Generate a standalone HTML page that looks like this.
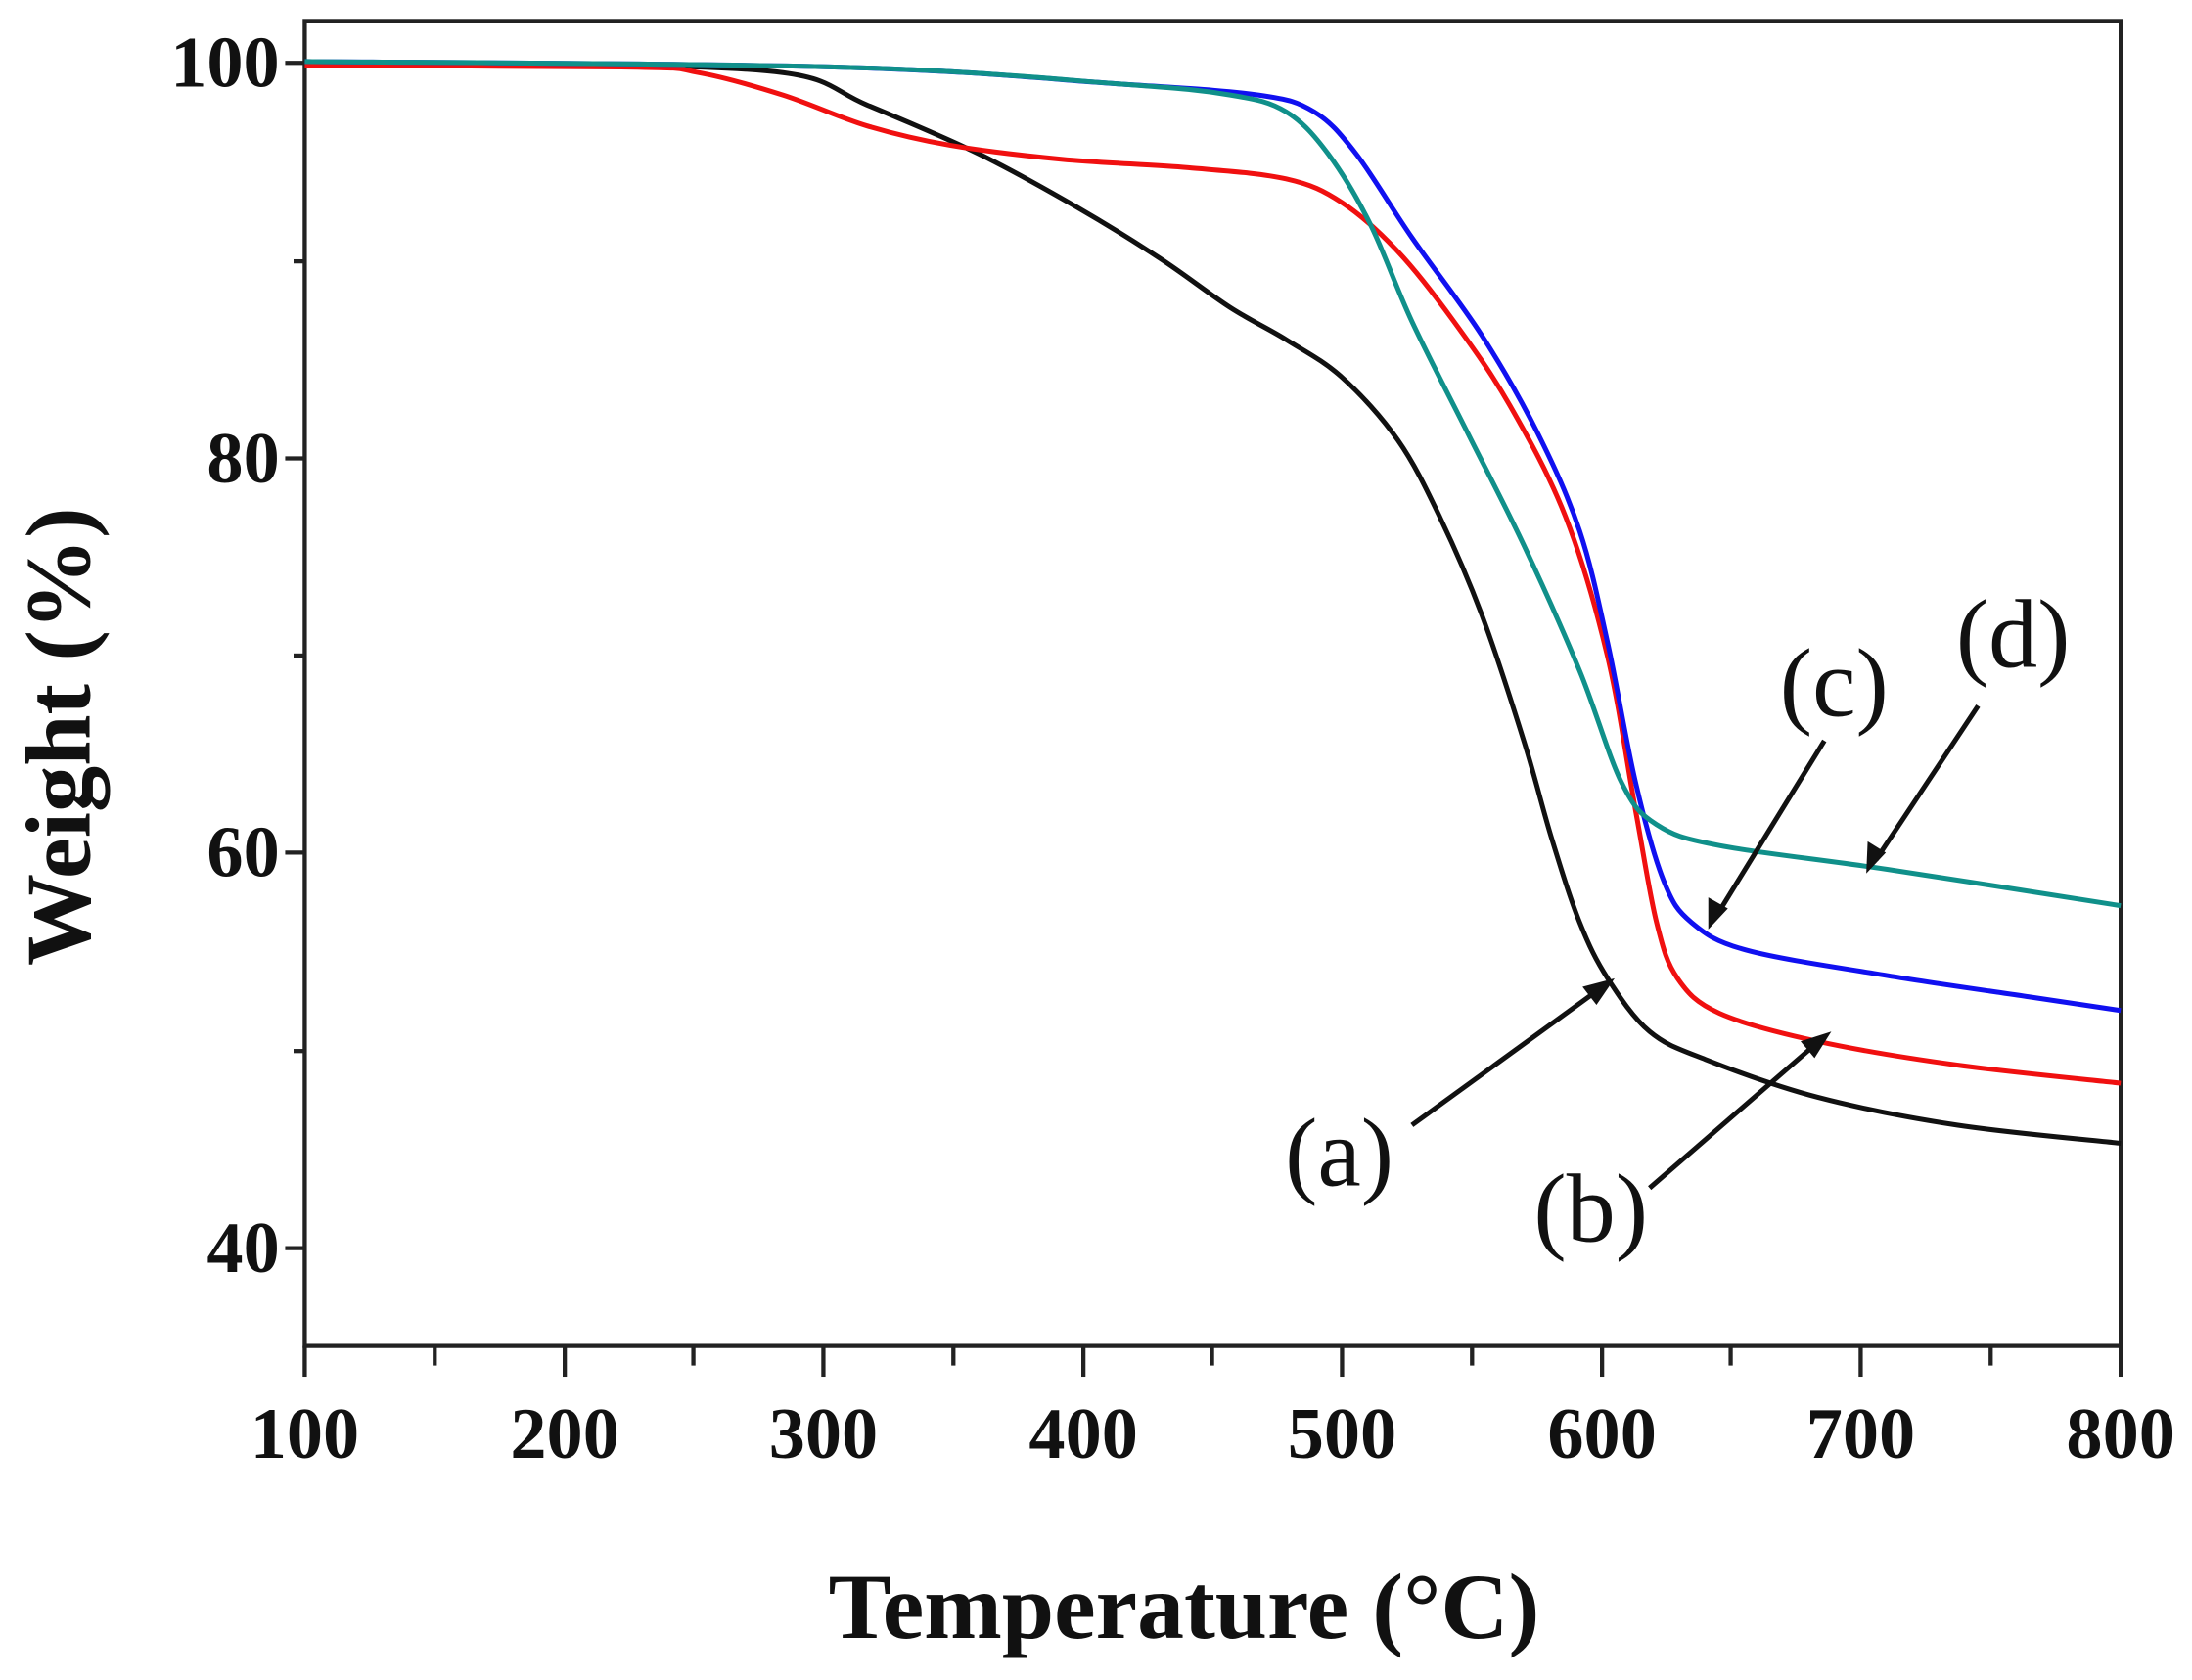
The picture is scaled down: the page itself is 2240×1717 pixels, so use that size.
<!DOCTYPE html>
<html><head><style>html,body{margin:0;padding:0;background:#fff}svg{display:block}</style></head><body>
<svg id="s" width="2240" height="1717" viewBox="0 0 1568 1202" preserveAspectRatio="none" xmlns="http://www.w3.org/2000/svg" font-family="Liberation Serif, serif">
<rect x="218" y="15" width="1299" height="948" fill="none" stroke="#222" stroke-width="3"/>
<g stroke="#222" stroke-width="3">
<line x1="218" y1="963" x2="218" y2="985"/><line x1="311" y1="963" x2="311" y2="977"/>
<line x1="404" y1="963" x2="404" y2="985"/><line x1="496" y1="963" x2="496" y2="977"/>
<line x1="589" y1="963" x2="589" y2="985"/><line x1="682" y1="963" x2="682" y2="977"/>
<line x1="775" y1="963" x2="775" y2="985"/><line x1="867" y1="963" x2="867" y2="977"/>
<line x1="960" y1="963" x2="960" y2="985"/><line x1="1053" y1="963" x2="1053" y2="977"/>
<line x1="1146" y1="963" x2="1146" y2="985"/><line x1="1238" y1="963" x2="1238" y2="977"/>
<line x1="1331" y1="963" x2="1331" y2="985"/><line x1="1424" y1="963" x2="1424" y2="977"/>
<line x1="1517" y1="963" x2="1517" y2="985"/>
<line x1="218" y1="45" x2="204" y2="45"/><line x1="218" y1="187" x2="210" y2="187"/>
<line x1="218" y1="328" x2="204" y2="328"/><line x1="218" y1="469" x2="210" y2="469"/>
<line x1="218" y1="610" x2="204" y2="610"/><line x1="218" y1="752" x2="210" y2="752"/>
<line x1="218" y1="893" x2="204" y2="893"/>
</g>
<g font-size="52" font-weight="bold" text-anchor="middle" fill="#111">
<text x="218" y="1043">100</text><text x="404" y="1043">200</text><text x="589" y="1043">300</text>
<text x="775" y="1043">400</text><text x="960" y="1043">500</text><text x="1146" y="1043">600</text>
<text x="1331" y="1043">700</text><text x="1517" y="1043">800</text>
</g>
<g font-size="52" font-weight="bold" text-anchor="end" fill="#111">
<text x="200" y="62">100</text><text x="200" y="345">80</text><text x="200" y="627">60</text><text x="200" y="910">40</text>
</g>
<text x="847" y="1172" font-size="67" font-weight="bold" text-anchor="middle" fill="#111">Temperature (°C)</text>
<text transform="translate(64,527) rotate(-90)" font-size="66" font-weight="bold" text-anchor="middle" fill="#111">Weight (%)</text>
<g fill="none" stroke-width="3.5" stroke-linejoin="round">
<path class="c" stroke="#111" data-p="218,45 400,46 560,52 620,75 700,110 770,148 830,185 880,220 920,243 960,270 1000,315 1030,370 1060,440 1090,530 1110,600 1130,660 1150,700 1180,738 1220,758 1300,785 1400,805 1517,818"/>
<path class="c" stroke="#f01010" data-p="218,47 450,48 500,52 560,68 620,90 680,104 760,114 850,120 920,128 960,145 1000,180 1040,230 1080,290 1120,370 1150,470 1170,580 1185,660 1200,700 1230,725 1300,745 1400,762 1517,775"/>
<path class="c" stroke="#1010f0" data-p="218,44 600,48 800,60 900,68 940,80 970,110 1010,170 1060,240 1100,310 1130,380 1150,460 1170,560 1190,630 1210,660 1250,680 1350,698 1450,713 1517,723"/>
<path class="c" stroke="#10908a" data-p="218,44 600,48 800,60 880,68 920,80 950,110 980,160 1010,230 1050,310 1090,390 1130,480 1160,560 1185,590 1230,605 1350,622 1517,648"/>
</g>
<g stroke="#111" stroke-width="3.5" fill="#111">
<line x1="1010" y1="805" x2="1145" y2="707"/><polygon points="1155,700 1132,706 1142,719" stroke="none"/>
<line x1="1180" y1="850" x2="1300" y2="746"/><polygon points="1310,738 1288,745 1298,757" stroke="none"/>
<line x1="1305" y1="530" x2="1228" y2="655"/><polygon points="1222,665 1222,642 1236,650" stroke="none"/>
<line x1="1415" y1="505" x2="1342" y2="615"/><polygon points="1335,625 1336,602 1349,610" stroke="none"/>
</g>
<g font-size="70" fill="#111" text-anchor="middle">
<text x="958" y="848">(a)</text><text x="1138" y="888">(b)</text><text x="1312" y="512">(c)</text><text x="1440" y="477">(d)</text>
</g>
</svg>
<script>
document.querySelectorAll('path.c').forEach(function(el){
var p=el.getAttribute('data-p').split(' ').map(function(s){return s.split(',').map(Number);});
var d='M'+p[0][0]+','+p[0][1];
for(var i=0;i<p.length-1;i++){
var p0=p[i-1]||p[i],p1=p[i],p2=p[i+1],p3=p[i+2]||p2;
var c1x=p1[0]+(p2[0]-p0[0])/6,c1y=p1[1]+(p2[1]-p0[1])/6;
var c2x=p2[0]-(p3[0]-p1[0])/6,c2y=p2[1]-(p3[1]-p1[1])/6;
d+=' C'+c1x+','+c1y+' '+c2x+','+c2y+' '+p2[0]+','+p2[1];}
el.setAttribute('d',d);});
</script>
</body></html>
